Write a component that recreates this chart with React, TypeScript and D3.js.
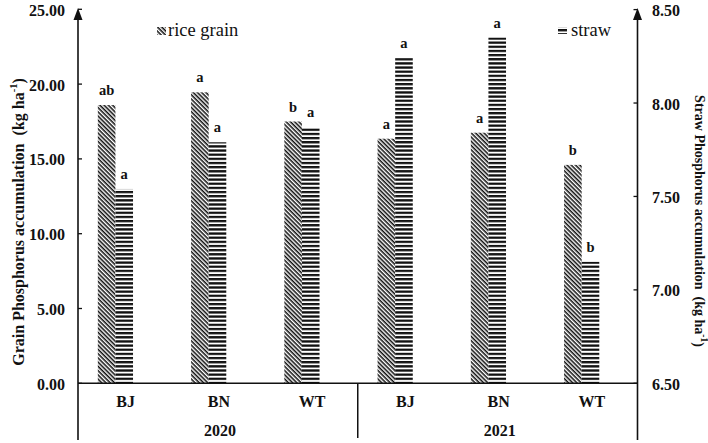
import React from "react";
import * as d3 from "d3";

// Phosphorus accumulation by site and year
const years = ["2020", "2021"];
const sites = ["BJ", "BN", "WT"];
const grainValues = [18.6, 19.45, 17.5, 16.35, 16.75, 14.6]; // kg ha-1, left axis
const strawValues = [7.54, 7.79, 7.87, 8.24, 8.35, 7.15]; // kg ha-1, right axis
const grainLetters = ["ab", "a", "b", "a", "a", "b"];
const strawLetters = ["a", "a", "a", "a", "a", "b"];
const leftTicks = [0, 5, 10, 15, 20, 25];
const rightTicks = [6.5, 7.0, 7.5, 8.0, 8.5];

const W = 708;
const H = 443;
const plotL = 78;
const plotR = 637.5;
const baseY = 383.3;
const axisBottom = 440;
const serif = "'Liberation Serif', 'Times New Roman', serif";

export default function App() {
  const keys = years.flatMap((y) => sites.map((s) => `${y}-${s}`));
  const x = d3.scaleBand<string>().domain(keys).range([plotL, plotR]).padding(0);
  const yL = d3.scaleLinear().domain([0, 25]).range([baseY, 9.3]);
  const yR = d3.scaleLinear().domain([6.5, 8.5]).range([baseY, 9.6]);
  const barW = 17.6;
  const pairShift = -9.2;

  const rows = keys.map((k, i) => ({
    key: k,
    site: sites[i % 3],
    cx: (x(k) as number) + x.bandwidth() / 2,
    grain: grainValues[i],
    straw: strawValues[i],
    gl: grainLetters[i],
    sl: strawLetters[i],
  }));

  return (
    <svg
      width={W}
      height={H}
      style={{ position: "absolute", left: 0, top: 0, background: "#fff" }}
      fontFamily={serif}
    >
      <defs>
        <pattern
          id="grainHatch"
          patternUnits="userSpaceOnUse"
          width={3}
          height={3}
          patternTransform="rotate(45)"
        >
          <rect x={0} y={0} width={3} height={3} fill="#fff" />
          <rect x={0} y={0} width={3} height={1.55} fill="#111" />
        </pattern>
        <pattern id="strawHatch" patternUnits="userSpaceOnUse" width={4} height={4.15}>
          <rect x={0} y={0} width={4} height={4.15} fill="#fff" />
          <rect x={0} y={0} width={4} height={2.3} fill="#111" />
        </pattern>
      </defs>

      {/* bars */}
      {rows.map((r) => {
        const c = r.cx + pairShift;
        const gy = yL(r.grain);
        const sy = yR(r.straw);
        return (
          <g key={r.key}>
            <rect x={c - barW} y={gy} width={barW} height={baseY - gy} fill="url(#grainHatch)" />
            <rect x={c} y={sy} width={barW} height={baseY - sy} fill="url(#strawHatch)" />
            <text
              x={c - barW / 2}
              y={gy - 10}
              textAnchor="middle"
              fontSize={14.5}
              fontWeight="bold"
              fill="#111"
            >
              {r.gl}
            </text>
            <text
              x={c + barW / 2}
              y={sy - 10}
              textAnchor="middle"
              fontSize={14.5}
              fontWeight="bold"
              fill="#111"
            >
              {r.sl}
            </text>
          </g>
        );
      })}

      {/* baseline and year divider */}
      <line x1={plotL} x2={plotR} y1={baseY} y2={baseY} stroke="#111" strokeWidth={1.5} />
      <line
        x1={x(keys[3]) as number}
        x2={x(keys[3]) as number}
        y1={baseY}
        y2={axisBottom - 2}
        stroke="#111"
        strokeWidth={1.5}
      />

      {/* left axis */}
      <line x1={plotL} x2={plotL} y1={14} y2={axisBottom} stroke="#111" strokeWidth={1.6} />
      <polygon
        points={`${plotL - 4.5},20 ${plotL},8 ${plotL + 4.5},20`}
        fill="#111"
      />
      {leftTicks.map((t) => (
        <g key={`l${t}`}>
          <line x1={plotL} x2={plotL + 4} y1={yL(t)} y2={yL(t)} stroke="#111" strokeWidth={1.3} />
          <text
            x={65}
            y={yL(t) + 1}
            textAnchor="end"
            dominantBaseline="central"
            fontSize={16}
            fontWeight="bold"
            fill="#111"
          >
            {d3.format(".2f")(t)}
          </text>
        </g>
      ))}

      {/* right axis */}
      <line x1={plotR} x2={plotR} y1={14} y2={axisBottom} stroke="#111" strokeWidth={1.6} />
      <polygon
        points={`${plotR - 4.5},20 ${plotR},8 ${plotR + 4.5},20`}
        fill="#111"
      />
      {rightTicks.map((t) => (
        <g key={`r${t}`}>
          <line x1={plotR - 4} x2={plotR} y1={yR(t)} y2={yR(t)} stroke="#111" strokeWidth={1.3} />
          <text
            x={652}
            y={yR(t) + 1}
            textAnchor="start"
            dominantBaseline="central"
            fontSize={16}
            fontWeight="bold"
            fill="#111"
          >
            {d3.format(".2f")(t)}
          </text>
        </g>
      ))}

      {/* category labels */}
      {rows.map((r) => (
        <text
          key={`c${r.key}`}
          x={r.cx + 1}
          y={407}
          textAnchor="middle"
          fontSize={16}
          fontWeight="bold"
          fill="#111"
        >
          {r.site}
        </text>
      ))}
      {years.map((yr, i) => {
        const first = x(keys[i * 3]) as number;
        const cx = first + (x.bandwidth() * 3) / 2;
        return (
          <text
            key={yr}
            x={cx + 2}
            y={435.5}
            textAnchor="middle"
            fontSize={16}
            fontWeight="bold"
            fill="#111"
          >
            {yr}
          </text>
        );
      })}

      {/* axis titles */}
      <text
        transform={`translate(18,222) rotate(-90)`}
        textAnchor="middle"
        dominantBaseline="central"
        fontSize={16}
        fontWeight="bold"
        fill="#111"
      >
        Grain Phosphorus accumulation{"\u00a0\u00a0"}(kg ha
        <tspan fontSize={10.5} dy={-5.5}>-1</tspan>
        <tspan dy={5.5}>)</tspan>
      </text>
      <text
        transform={`translate(699,221) rotate(90)`}
        textAnchor="middle"
        dominantBaseline="central"
        fontSize={14}
        fontWeight="bold"
        fill="#111"
      >
        Straw Phosphorus accumulation{"\u00a0\u00a0"}(kg ha
        <tspan fontSize={9.5} dy={-5}>-1</tspan>
        <tspan dy={5}>)</tspan>
      </text>

      {/* legend */}
      <rect x={157} y={27} width={9} height={8} fill="url(#grainHatch)" />
      <text x={168} y={36} fontSize={18.5} fill="#111">
        rice grain
      </text>
      <rect x={558} y={27.5} width={9} height={6.5} fill="url(#strawHatch)" />
      <text x={571} y={36} fontSize={18.5} fill="#111">
        straw
      </text>
    </svg>
  );
}
